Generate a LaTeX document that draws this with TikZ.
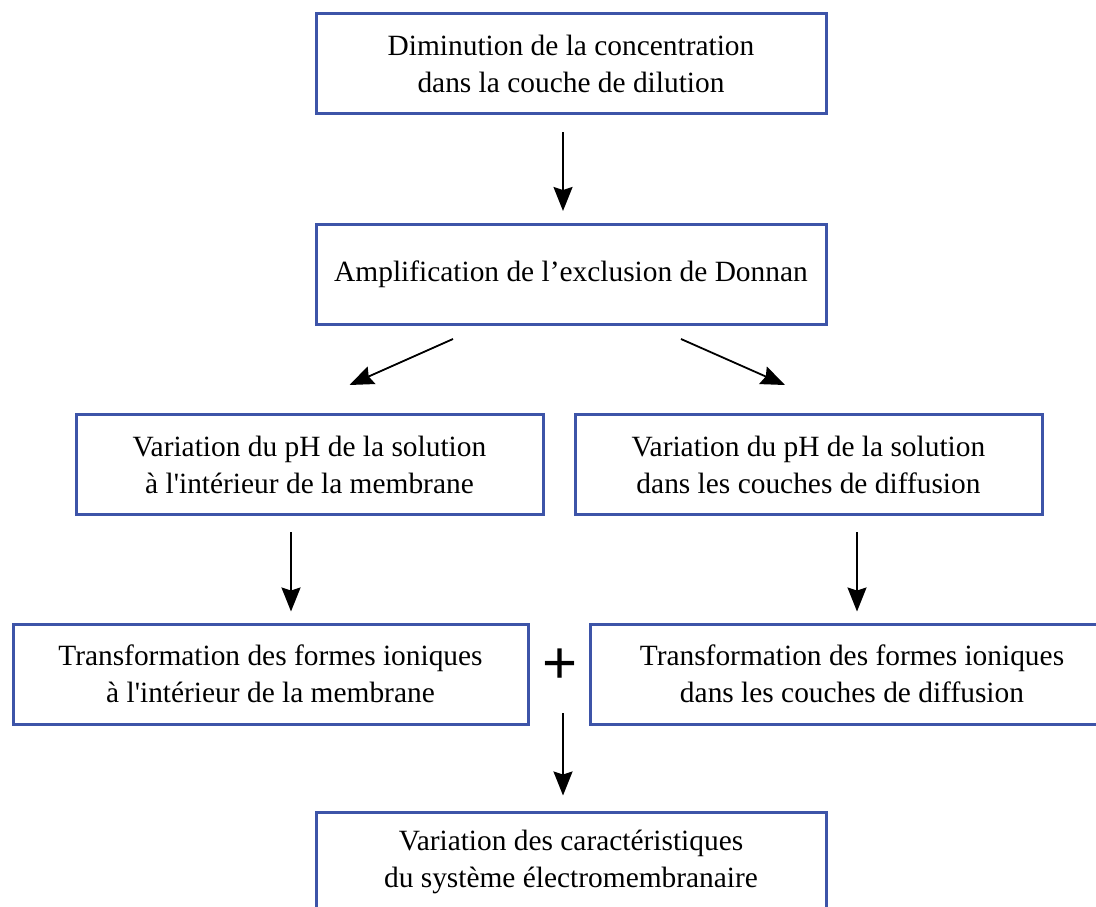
\documentclass[tikz,border=0pt]{standalone}
\usepackage{fontspec}
\newfontfamily\boxfont{Liberation Serif}
\newfontfamily\plusfont{Liberation Sans}
\usetikzlibrary{arrows.meta}
\definecolor{boxblue}{RGB}{61,84,168}

\begin{document}
\begin{tikzpicture}[x=1pt, y=-1pt,
    box/.style={draw=boxblue, line width=3pt, align=center, inner sep=0pt,
        minimum height=100pt, font=\boxfont\fontsize{29.4}{37}\selectfont},
    arrow/.style={-{Stealth[length=24pt, width=19pt, inset=3pt]}, line width=1.8pt}]
    \useasboundingbox (0,0) rectangle (1096,906);
    \clip (0,0) rectangle (1096,906);

    % Draw nodes
    \node[box, minimum width=510pt] (1) at (571,63.5) {Diminution de la concentration\\dans la couche de dilution};
    \node[box, minimum width=510pt] (2) at (571,274.5) {Amplification de l’exclusion de Donnan};
    \node[box, minimum width=467pt] (3) at (309.5,464.5) {Variation du pH de la solution\\à l'intérieur de la membrane};
    \node[box, minimum width=467pt] (4) at (808.5,464.5) {Variation du pH de la solution\\dans les couches de diffusion};
    \node[box, minimum width=515pt] (5) at (270.5,674) {Transformation des formes ioniques\\à l'intérieur de la membrane};
    \node[box, minimum width=524pt] (6) at (852,674) {Transformation des formes ioniques\\dans les couches de diffusion};
    \node[box, minimum width=510pt] (7) at (571,862) {Variation des caractéristiques\\du système électromembranaire};
    \node[inner sep=0pt, minimum height=94pt, font=\plusfont\fontsize{60}{60}\selectfont] (plus) at (560,666) {+};

    % Draw connections
    \draw[arrow] ([shift={(-8,17)}]1.south) -- ([shift={(-8,-12)}]2.north);
    \draw[arrow] ([shift={(-118,13)}]2.south) -- ([shift={(40,-28)}]3.north);
    \draw[arrow] ([shift={(110,13)}]2.south) -- ([shift={(-23.5,-28)}]4.north);
    \draw[arrow] ([shift={(-18.5,16)}]3.south) -- ([shift={(20.5,-11)}]5.north);
    \draw[arrow] ([shift={(48.5,16)}]4.south) -- ([shift={(5,-11)}]6.north);
    \draw[arrow] ([shift={(3,0)}]plus.south) -- ([shift={(-8,-15)}]7.north);
\end{tikzpicture}
\end{document}
